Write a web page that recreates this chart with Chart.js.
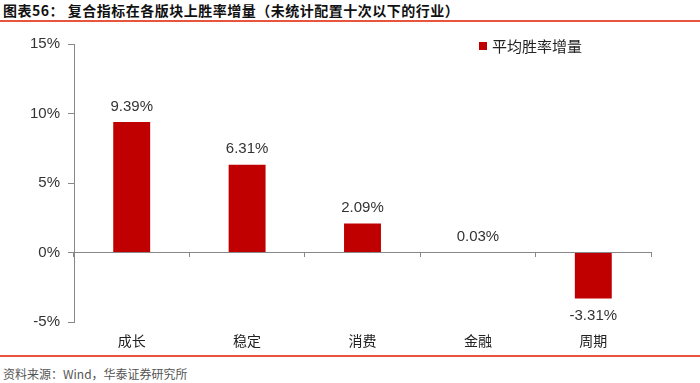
<!DOCTYPE html>
<html><head><meta charset="utf-8">
<script src="https://cdn.jsdelivr.net/npm/chart.js@4.4.1/dist/chart.umd.min.js"></script>
<style>
html,body{margin:0;padding:0;background:#fff;width:700px;height:383px;overflow:hidden;}
#title{position:absolute;left:3px;top:1px;font:bold 14px "Noto Sans CJK SC";color:#111;line-height:18px;white-space:nowrap;letter-spacing:0.5px;}
#tline{position:absolute;left:0;top:20px;width:700px;height:2px;background:#E8553F;}
#bline{position:absolute;left:0;top:355px;width:700px;height:2px;background:#E8553F;}
#src{position:absolute;left:3px;top:366px;font:12px "Noto Sans CJK SC";color:#555;line-height:16px;white-space:nowrap;}
#wrap{position:absolute;left:0;top:24px;width:700px;height:330px;}
</style></head>
<body>
<div id="title">图表56：&nbsp;复合指标在各版块上胜率增量（未统计配置十次以下的行业）</div>
<div id="tline"></div>
<div id="wrap"><canvas id="c" width="700" height="330"></canvas></div>
<div id="bline"></div>
<div id="src">资料来源：Wind，华泰证券研究所</div>
<script>
const categories = ['成长', '稳定', '消费', '金融', '周期'];
const seriesName = '平均胜率增量';
const winRateIncrease = [9.39, 6.31, 2.09, 0.03, -3.31];
const yMin = -5, yMax = 15, yStep = 5;

const valueLabels = {
  id: 'valueLabels',
  afterDatasetsDraw(chart) {
    const ctx = chart.ctx;
    const meta = chart.getDatasetMeta(0);
    const data = chart.data.datasets[0].data;
    ctx.save();
    ctx.font = '15px "Liberation Sans", Arial, sans-serif';
    ctx.fillStyle = '#333';
    ctx.textAlign = 'center';
    meta.data.forEach((bar, i) => {
      const v = data[i];
      const txt = v.toFixed(2) + '%';
      if (v >= 0) { ctx.textBaseline = 'bottom'; ctx.fillText(txt, bar.x, bar.y - 8); }
      else { ctx.textBaseline = 'top'; ctx.fillText(txt, bar.x, bar.y + 10); }
    });
    ctx.restore();
  }
};

const customLegend = {
  id: 'customLegend',
  afterDraw(chart) {
    const ctx = chart.ctx;
    const ds = chart.data.datasets[0];
    ctx.save();
    ctx.fillStyle = ds.backgroundColor;
    ctx.fillRect(479, 18, 8, 8);
    ctx.font = '15px "Noto Sans CJK SC", sans-serif';
    ctx.fillStyle = '#222';
    ctx.textAlign = 'left';
    ctx.textBaseline = 'middle';
    ctx.fillText(ds.label, 492, 22);
    ctx.restore();
  }
};

new Chart(document.getElementById('c'), {
  type: 'bar',
  data: {
    labels: categories,
    datasets: [{
      label: seriesName,
      data: winRateIncrease,
      backgroundColor: '#C00000',
      borderWidth: 0,
      categoryPercentage: 1,
      barPercentage: 0.32
    }]
  },
  options: {
    responsive: false,
    animation: false,
    devicePixelRatio: 1,
    layout: { padding: { top: 20, right: 49, left: 0, bottom: 0 } },
    plugins: { legend: { display: false }, tooltip: { enabled: false } },
    scales: {
      x: {
        position: 'bottom',
        grid: { display: false },
        border: { display: false },
        ticks: { font: { size: 14, family: '"Noto Sans CJK SC", sans-serif' }, color: '#222', padding: 2 },
        afterFit(s) { s.height = 32; }
      },
      x0: {
        axis: 'x',
        type: 'category',
        position: { y: 0 },
        grid: { display: true, offset: true, drawOnChartArea: false, drawTicks: true, tickLength: 4, color: '#888' },
        border: { display: true, color: '#888', width: 1 },
        ticks: { display: false }
      },
      y: {
        min: yMin, max: yMax,
        ticks: {
          stepSize: yStep,
          callback: v => v + '%',
          font: { size: 15, family: '"Liberation Sans", Arial, sans-serif' },
          color: '#333',
          padding: 8
        },
        grid: { drawOnChartArea: false, drawTicks: true, tickLength: 6, color: '#888' },
        border: { display: true, color: '#888', width: 1 },
        afterFit(s) { s.width = 74; }
      }
    }
  },
  plugins: [valueLabels, customLegend]
});
</script>
</body></html>
